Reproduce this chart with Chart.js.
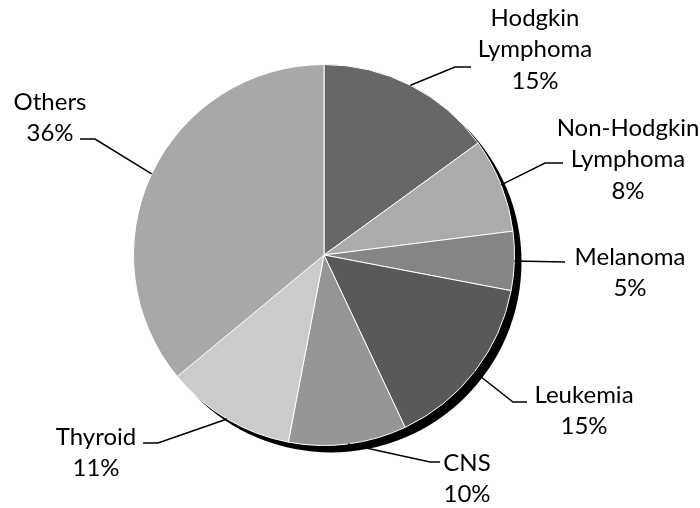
<!DOCTYPE html>
<html>
<head>
<meta charset="utf-8">
<script src="https://cdn.jsdelivr.net/npm/chart.js@4/dist/chart.umd.min.js"></script>
<style>
  body { margin: 0; background: #fff; }
  canvas { display: block; }
</style>
</head>
<body>
<canvas id="myChart" width="700" height="508"></canvas>
<script>
let categories = [
  ["Hodgkin", "Lymphoma"],
  ["Non-Hodgkin", "Lymphoma"],
  ["Melanoma"],
  ["Leukemia"],
  ["CNS"],
  ["Thyroid"],
  ["Others"],
];
let shares = [15, 8, 5, 15, 10, 11, 36];
let sliceColors = ["#676767", "#ababab", "#858585", "#595959", "#969696", "#cbcbcb", "#a8a8a8"];

// where each label sits (elbow of the leader, end of leader, text centre)
let labelLayout = [
  { elbow: [455, 67], end: 471, text: [535, 18] },
  { elbow: [545, 163], end: 563, text: [628, 128] },
  { elbow: [565, 262], end: 565, text: [630, 257] },
  { elbow: [513, 402], end: 527, text: [584, 395] },
  { elbow: [430, 462], end: 440, text: [467, 463] },
  { elbow: [158, 443], end: 143, text: [96, 437] },
  { elbow: [95, 139], end: 80, text: [50, 102] },
];
let lineHeight = 31.5;

let shadowPlugin = {
  id: "pieShadow",
  beforeDatasetsDraw(chart) {
    let arc = chart.getDatasetMeta(0).data[0];
    if (!arc) return;
    let ctx = chart.ctx;
    ctx.save();
    ctx.fillStyle = "#000";
    ctx.beginPath();
    ctx.arc(arc.x + 7, arc.y + 7, arc.outerRadius, 0, Math.PI * 2);
    ctx.fill();
    ctx.restore();
  },
};

let labelPlugin = {
  id: "leaderLabels",
  afterDatasetsDraw(chart) {
    let ctx = chart.ctx;
    let meta = chart.getDatasetMeta(0);
    ctx.save();
    ctx.strokeStyle = "#000";
    ctx.lineWidth = 1.5;
    ctx.fillStyle = "#000";
    ctx.font = "24px Lato";
    ctx.textAlign = "center";
    ctx.textBaseline = "middle";
    meta.data.forEach((arc, i) => {
      let mid = (arc.startAngle + arc.endAngle) / 2;
      let sx = arc.x + Math.cos(mid) * arc.outerRadius;
      let sy = arc.y + Math.sin(mid) * arc.outerRadius;
      let lay = labelLayout[i];
      ctx.beginPath();
      ctx.moveTo(sx, sy);
      ctx.lineTo(lay.elbow[0], lay.elbow[1]);
      ctx.lineTo(lay.end, lay.elbow[1]);
      ctx.stroke();
      let lines = categories[i].concat([shares[i] + "%"]);
      lines.forEach((t, j) => {
        ctx.fillText(t, lay.text[0], lay.text[1] + j * lineHeight);
      });
    });
    ctx.restore();
  },
};

let ctx = document.getElementById("myChart").getContext("2d");
let chart = new Chart(ctx, {
  type: "pie",
  data: {
    labels: categories.map((c) => c.join(" ")),
    datasets: [
      {
        data: shares,
        backgroundColor: sliceColors,
        borderColor: "#ffffff",
        borderWidth: 1,
        hoverOffset: 0,
      },
    ],
  },
  options: {
    responsive: false,
    animation: false,
    layout: { padding: { left: 133, right: 185, top: 64, bottom: 62 } },
    plugins: {
      legend: { display: false },
      tooltip: { enabled: false },
    },
  },
  plugins: [shadowPlugin, labelPlugin],
});
</script>
</body>
</html>
